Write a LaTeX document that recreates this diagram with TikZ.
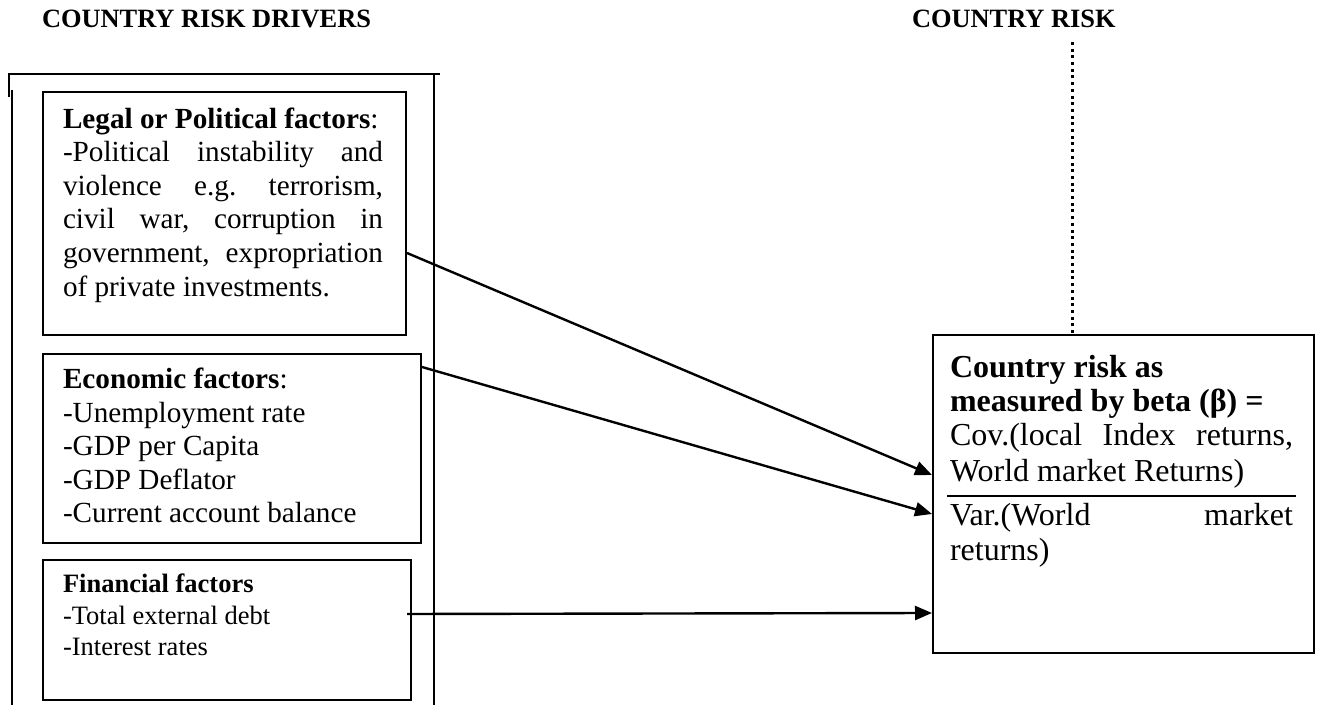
\documentclass[tikz,border=0pt]{standalone}
\usepackage{fontspec}
\setmainfont{Liberation Serif}
\usetikzlibrary{arrows.meta,calc}
\tikzset{
  boxst/.style={draw, line width=1pt, anchor=north west, inner sep=0pt},
  ln/.style={anchor=base west, inner sep=0pt, outer sep=0pt},
  fl/.style={ln, font=\fontsize{14.6pt}{16.8pt}\selectfont},
  ff/.style={ln, font=\fontsize{13.25pt}{15.6pt}\selectfont},
  fr/.style={ln, font=\fontsize{16pt}{18pt}\selectfont},
  hd/.style={ln, font=\fontsize{13.2pt}{15pt}\selectfont\bfseries},
  arr/.style={line width=1.2pt, -{Triangle[length=8.5pt,width=7pt]}},
  frameline/.style={line width=1pt},
  dotline/.style={line width=1.5pt, dash pattern=on 1.5pt off 1.85pt},
}
\newcommand\jl[2]{\makebox[#1][s]{#2}}
\frenchspacing
\begin{document}
\begin{tikzpicture}[x=0.5pt,y=-0.5pt]
\useasboundingbox (0,0) rectangle (1319,705);

% headings
\node[hd] (h1) at (42,28) {COUNTRY RISK DRIVERS};
\node[hd] (h2) at (912,28) {COUNTRY RISK};

% outer frame
\draw[frameline] (8,74) -- (440,74);
\draw[frameline] (9,74) -- (9,97);
\draw[frameline] (12,90) -- (12,705);
\draw[frameline] (434,74) -- (434,705);

% boxes
\node[boxst, minimum width=181.5pt, minimum height=121.5pt] (legal) at (42,91) {};
\node[boxst, minimum width=189pt, minimum height=94.5pt] (econ) at (42,353) {};
\node[boxst, minimum width=184pt, minimum height=70pt] (fin) at (42,559) {};
\node[boxst, minimum width=190.5pt, minimum height=159pt] (beta) at (932,334) {};

% legal text
\node[fl] (lg1) at (63,128.5) {\textbf{Legal or Political factors}:};
\node[fl] (lg2) at (63,162) {\jl{160pt}{-Political instability and}};
\node[fl] (lg3) at (63,195.5) {\jl{160pt}{violence e.g. terrorism,}};
\node[fl] (lg4) at (63,229) {\jl{160pt}{civil war, corruption in}};
\node[fl] (lg5) at (63,262.5) {\jl{160pt}{government, expropriation}};
\node[fl] (lg6) at (63,296.5) {of private investments.};

% economic text
\node[fl] (ec1) at (63,389) {\textbf{Economic factors}:};
\node[fl] (ec2) at (63,422.5) {-Unemployment rate};
\node[fl] (ec3) at (63,456) {-GDP per Capita};
\node[fl] (ec4) at (63,489.5) {-GDP Deflator};
\node[fl] (ec5) at (63,523) {-Current account balance};

% financial text
\node[ff] (fi1) at (63,593) {\textbf{Financial factors}};
\node[ff] (fi2) at (63,625) {-Total external debt};
\node[ff] (fi3) at (63,656) {-Interest rates};

% right box text
\node[fr] (r1) at (950,378) {\textbf{Country risk as}};
\node[fr] (r2) at (950,412) {\textbf{measured by beta (β) =}};
\node[fr] (r3) at (950,446) {\jl{171.5pt}{Cov.(local Index returns,}};
\node[fr] (r4) at (950,482) {World market Returns)};
\node[fr] (r5) at (950,526) {\jl{171.5pt}{Var.(World market}};
\node[fr] (r6) at (950,561) {returns)};
\coordinate (fracL) at (947,496);
\coordinate (fracR) at (1296,496);
\draw[frameline] (fracL) -- (fracR);

% dotted connector
\coordinate (dt) at (1072,42);
\draw[dotline] (dt) -- (dt |- beta.north);

% arrows
\draw[arr] (legal.east |- 0,253) -- (beta.west |- 0,475);
\draw[arr] (econ.east |- 0,367) -- (beta.west |- 0,514);
\draw[arr] ([xshift=-2.5pt]fin.east |- 0,614) -- (beta.west |- 0,613);
\end{tikzpicture}
\end{document}
